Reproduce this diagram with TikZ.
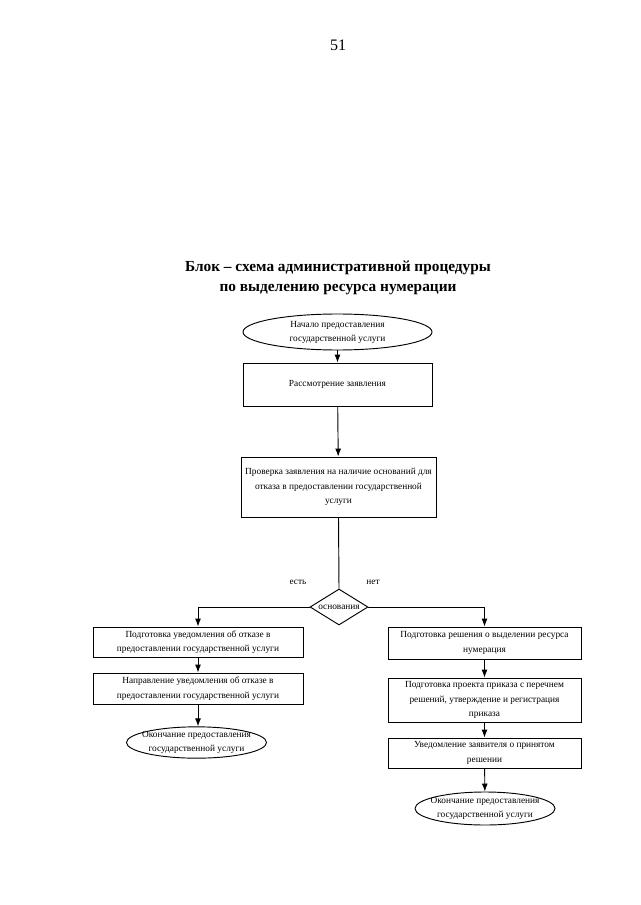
\documentclass[tikz,border=0pt]{standalone}
\usepackage{fontspec}
\setmainfont{Liberation Serif}
\usetikzlibrary{shapes.geometric,arrows.meta}
\tikzset{
  box/.style={draw, line width=0.7pt, rectangle, inner sep=1pt, align=center,
    font=\fontsize{7}{11}\selectfont},
  oval/.style={draw, line width=0.7pt, ellipse, inner sep=0pt},
  dia/.style={draw, line width=0.7pt, diamond, inner sep=0pt},
  txt/.style={align=center, inner sep=0pt, font=\fontsize{7}{10.5}\selectfont},
  arr/.style={line width=0.7pt, -{Latex[length=6pt,width=4.5pt]}},
  ln/.style={line width=0.7pt}
}
\begin{document}
\begin{tikzpicture}[x=0.75pt,y=-0.75pt]
\useasboundingbox (0,0) rectangle (640,905);
\node[font=\fontsize{12}{14}\selectfont] (pg) at (338,45) {51};
\node[align=center, font=\fontsize{11.5}{15}\selectfont\bfseries] (title) at (338,278)
  {Блок – схема административной процедуры\\по выделению ресурса нумерации};

\node[oval, minimum width=141.75pt, minimum height=27pt] (st) at (337.5,332) {};
\node[txt] (stt) at (st) {Начало предоставления\\государственной услуги};

\node[box, minimum width=141.75pt, minimum height=32.25pt] (b1) at (337.5,384.5) {Рассмотрение заявления};
\node[box, minimum width=146.25pt, minimum height=45pt] (b2) at (338.5,487)
  {Проверка заявления на наличие оснований для\\отказа в предоставлении государственной\\услуги};

\node[dia, minimum width=43.5pt, minimum height=27pt] (d) at (339,607) {};
\node[txt] (dt) at (d) {основания};
\node[txt] (yes) at (298,582) {есть};
\node[txt] (no) at (373,582) {нет};

\node[box, minimum width=157.5pt, minimum height=22.5pt] (l1) at (198,642)
  {Подготовка уведомления об отказе в\\предоставлении государственной услуги};
\node[box, minimum width=157.5pt, minimum height=23.25pt] (l2) at (198,688.5)
  {Направление уведомления об отказе в\\предоставлении государственной услуги};
\node[oval, minimum width=105pt, minimum height=23.5pt] (le) at (196.5,742.5) {};
\node[txt] (let) at (le) {Окончание предоставления\\государственной услуги};

\node[box, minimum width=144.75pt, minimum height=24pt] (r1) at (484.5,643)
  {Подготовка решения о выделении ресурса\\нумерация};
\node[box, minimum width=144.75pt, minimum height=33pt] (r2) at (484.5,700)
  {Подготовка проекта приказа с перечнем\\решений, утверждение и регистрация\\приказа};
\node[box, minimum width=144.75pt, minimum height=22.5pt] (r3) at (484.5,753)
  {Уведомление заявителя о принятом\\решении};
\node[oval, minimum width=105pt, minimum height=24.75pt] (re) at (485,808.5) {};
\node[txt] (ret) at (re) {Окончание предоставления\\государственной услуги};

\draw[arr] (st) -- (b1);
\draw[arr] (b1) -- (b2);
\draw[ln] (b2.south) -- (d.north);
\draw[arr] (d.west) -| (l1.north);
\draw[arr] (d.east) -| (r1.north);
\draw[arr] (l1) -- (l2);
\draw[arr] (l2.south) -- (l2.south |- le.north);
\draw[arr] (r1) -- (r2);
\draw[arr] (r2) -- (r3);
\draw[arr] (r3) -- (re);
\end{tikzpicture}
\end{document}
